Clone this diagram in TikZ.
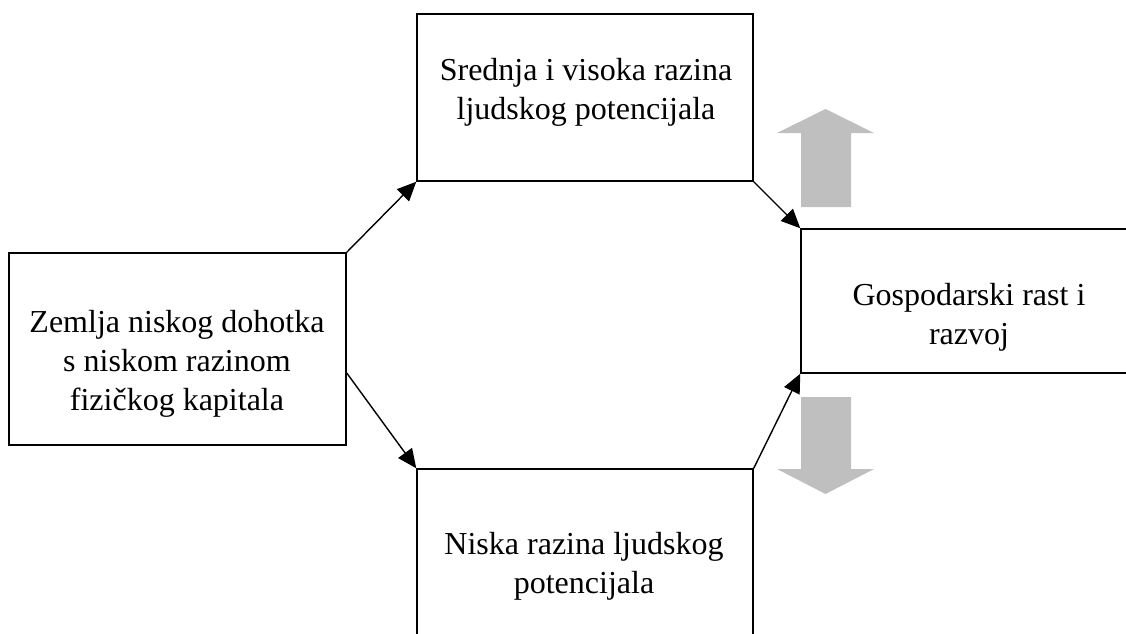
\documentclass[tikz,border=0pt]{standalone}
\usepackage{fontspec}
\setmainfont{Liberation Serif}
\usetikzlibrary{arrows.meta,positioning}

\begin{document}
\begin{tikzpicture}[x=1pt,y=-1pt]
\tikzstyle{box}=[rectangle,draw=black,line width=1.5pt,inner sep=0pt]
\tikzstyle{txt}=[align=center,inner sep=0pt,font=\fontsize{32}{39}\selectfont]
\tikzstyle{link}=[line width=1.4pt,-{Triangle[length=19pt,width=17pt]}]
\tikzstyle{blockarrow}=[fill=black!25,draw=none]
\useasboundingbox (0,0) rectangle (1126,633);
\clip (0,0) rectangle (1126,633);

% boxes
\node[box,minimum width=337pt,minimum height=192pt] at (177.5,349) (zemlja) {};
\node[box,minimum width=336pt,minimum height=167pt] at (585,97.5) (srednja) {};
\node[box,minimum width=336pt,minimum height=231pt] at (585,584.5) (niska) {};
\node[box,minimum width=339pt,minimum height=144pt] at (970.5,301) (rast) {};

% texts
\node[txt] at (177,364) (zemljatxt) {Zemlja niskog dohotka\\s niskom razinom\\fizičkog kapitala};
\node[txt] at (586,92) (srednjatxt) {Srednja i visoka razina\\ljudskog potencijala};
\node[txt] at (584,566) (niskatxt) {Niska razina ljudskog\\potencijala};
\node[txt] at (969,317) (rasttxt) {Gospodarski rast i\\razvoj};

% connectors
\draw[link] (zemlja.north east) -- (srednja.south west);
\draw[link] ([yshift=-24pt]zemlja.east) -- (niska.north west);
\draw[link] (srednja.south east) -- (rast.north west);
\draw[link] (niska.north east) -- (rast.south west);

% grey arrows
\path[blockarrow] (801,207) -- (801,133) -- (777,133) -- (825.5,109) -- (874,133)
  -- (851,133) -- (851,207) -- cycle;
\path[blockarrow] (801,397) -- (801,469) -- (777,469) -- (825.5,494) -- (874,469)
  -- (851,469) -- (851,397) -- cycle;

\end{tikzpicture}
\end{document}
